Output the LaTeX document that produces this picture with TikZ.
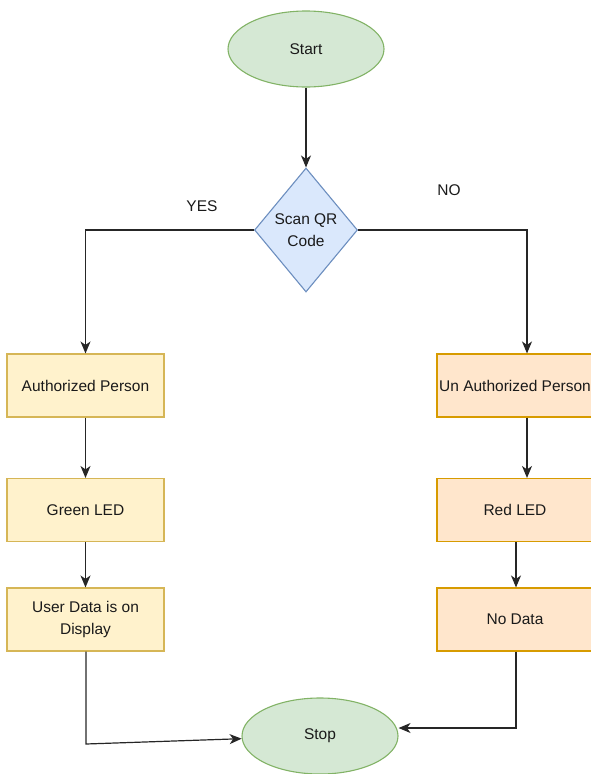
\documentclass[tikz,border=0pt]{standalone}
\usepackage{fontspec}
\setmainfont{Liberation Sans}
\usetikzlibrary{shapes.geometric,arrows.meta,calc}
\definecolor{gfill}{HTML}{D5E8D4}
\definecolor{gdraw}{HTML}{82B366}
\definecolor{bfill}{HTML}{DAE8FC}
\definecolor{bdraw}{HTML}{6C8EBF}
\definecolor{yfill}{HTML}{FFF2CC}
\definecolor{ydraw}{HTML}{D6B656}
\definecolor{ofill}{HTML}{FFE6CC}
\definecolor{odraw}{HTML}{D79B00}
\definecolor{txt}{HTML}{1A1A1A}
\tikzset{
  every node/.style={font=\fontsize{15.5}{22.5}\selectfont, text=txt},
  term/.style={ellipse, draw=gdraw, fill=gfill, line width=1.1pt, minimum width=156pt, minimum height=76pt, inner sep=0pt},
  decision/.style={diamond, draw=bdraw, fill=bfill, line width=1.1pt, minimum width=103pt, minimum height=124pt, inner sep=0pt, align=center},
  ybox/.style={rectangle, draw=ydraw, fill=yfill, line width=1.1pt, minimum width=157pt, minimum height=63pt, inner sep=0pt, align=center},
  obox/.style={rectangle, draw=odraw, fill=ofill, line width=1.1pt, minimum width=156pt, minimum height=63pt, inner sep=0pt, align=center},
  arr/.style={draw=black!85, line width=1.2pt, -{Stealth[length=12pt,width=10pt,inset=3.5pt]}},
  lbl/.style={inner sep=0pt}
}
\begin{document}
\begin{tikzpicture}[x=1pt,y=-1pt]
\useasboundingbox (0,0) rectangle (591,774);
\node[term] (start) at (306,49) {Start};
\node[decision] (scan) at (306,230) {Scan QR\\Code};
\node[ybox] (auth) at (85.5,385.5) {Authorized Person};
\node[ybox] (green) at (85.5,510) {Green LED};
\node[ybox] (user) at (85.5,619.5) {User Data is on\\Display};
\node[obox] (unauth) at (515,385.5) {Un Authorized Person};
\node[obox] (red) at (515,510) {Red LED};
\node[obox] (nodata) at (515,619.5) {No Data};
\node[term] (stop) at (320,736) {Stop};
\node[lbl] (yes) at (202,206) {YES};
\node[lbl] (no) at (449,190) {NO};
\coordinate (l1) at (86,744);
\coordinate (r1) at (516,728);
\coordinate (rx) at (527,230);

\draw[arr] (start) -- (scan);
\draw[arr] (scan.west) -| (auth.north);
\draw[arr] (scan.east) -- (rx) -- (rx |- unauth.north);
\draw[arr] (auth) -- (green);
\draw[arr] (green) -- (user);
\draw[arr] (rx |- unauth.south) -- (rx |- red.north);
\draw[arr] (r1 |- red.south) -- (r1 |- nodata.north);
\draw[arr] (user.south -| l1) -- (l1) -- (stop);
\draw[arr] (r1 |- nodata.south) -- (r1) -- ([yshift=8pt]stop.east);
\end{tikzpicture}
\end{document}
